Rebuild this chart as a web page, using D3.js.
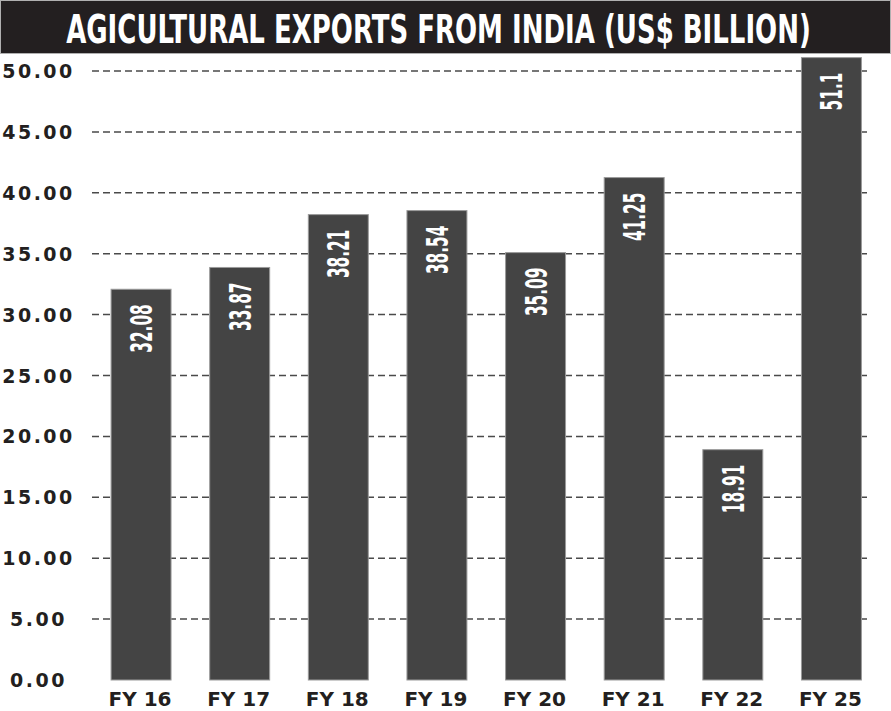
<!DOCTYPE html>
<html>
<head>
<meta charset="utf-8">
<script src="https://cdn.jsdelivr.net/npm/d3@7"></script>
<style>
  body { margin: 0; background: #fff; }
  svg { display: block; }
</style>
</head>
<body>
<script>
// chart data
const years = ["FY 16", "FY 17", "FY 18", "FY 19", "FY 20", "FY 21", "FY 22", "FY 25"];
const exports = [32.08, 33.87, 38.21, 38.54, 35.09, 41.25, 18.91, 51.1];
const valueLabels = ["32.08", "33.87", "38.21", "38.54", "35.09", "41.25", "18.91", "51.1"];
const yTicks = [0, 5, 10, 15, 20, 25, 30, 35, 40, 45, 50];
const title = "AGICULTURAL EXPORTS FROM INDIA (US$ BILLION)";

const width = 891;
const height = 711;

const svg = d3.select("body")
  .append("svg")
  .attr("width", width)
  .attr("height", height);

// title bar
svg.append("rect")
  .attr("x", 0.5)
  .attr("y", 0.5)
  .attr("width", width - 1)
  .attr("height", 53)
  .attr("fill", "#231f20")
  .attr("stroke", "#b0b0b0")
  .attr("stroke-width", 1);

// condensed title: size it to the wanted width, then stretch it up to the cap height
const titleText = svg.append("text")
  .attr("text-anchor", "middle")
  .attr("fill", "#ffffff")
  .style("font-family", "'DejaVu Sans Condensed', 'DejaVu Sans', sans-serif")
  .style("font-weight", "bold")
  .style("font-size", "30px")
  .text(title);
const natural = titleText.node().getComputedTextLength();
const fs = 30 * 745 / natural;
const sy = 28 / (0.729 * fs);
titleText
  .style("font-size", fs + "px")
  .attr("transform", `translate(438.5,43) scale(1,${sy})`);

// scales
const x = d3.scaleBand()
  .domain(years)
  .range([98.75, 873.75])
  .paddingInner(0.392)
  .paddingOuter(0.125);

const y = d3.scaleLinear()
  .domain([0, 50])
  .range([680, 71]);

// grid lines + y labels
const grid = svg.append("g");
grid.selectAll("line")
  .data(yTicks.slice(1))
  .join("line")
    .attr("x1", 92)
    .attr("x2", 867)
    .attr("y1", d => y(d))
    .attr("y2", d => y(d))
    .attr("stroke", "#4a4a4a")
    .attr("stroke-width", 1.5)
    .attr("stroke-dasharray", "7,4");

svg.append("g")
  .selectAll("text")
  .data(yTicks)
  .join("text")
    .attr("x", 38.5)
    .attr("y", d => y(d) + 7)
    .attr("text-anchor", "middle")
    .attr("fill", "#231f20")
    .style("font-family", "'DejaVu Sans', sans-serif")
    .style("font-weight", "bold")
    .style("font-size", "19px")
    .style("letter-spacing", "2.5px")
    .text(d => d3.format(".2f")(d));

// bars
svg.append("g")
  .selectAll("rect")
  .data(exports)
  .join("rect")
    .attr("x", (d, i) => x(years[i]))
    .attr("y", d => y(d))
    .attr("width", x.bandwidth())
    .attr("height", d => y(0) - y(d))
    .attr("fill", "#444444")
    .attr("stroke", "#9a9a9a")
    .attr("stroke-width", 1);

// value labels, rotated inside the bars
svg.append("g")
  .selectAll("text")
  .data(exports)
  .join("text")
    .attr("transform", (d, i) => `translate(${x(years[i]) + x.bandwidth() / 2 + 11},${y(d) + 15}) rotate(-90) scale(0.55,1)`)
    .attr("text-anchor", "end")
    .attr("fill", "#ffffff")
    .style("font-family", "'DejaVu Sans Condensed', 'DejaVu Sans', sans-serif")
    .style("font-weight", "bold")
    .style("font-size", "31px")
    .text((d, i) => valueLabels[i]);

// x labels
svg.append("g")
  .selectAll("text")
  .data(years)
  .join("text")
    .attr("x", d => x(d) + x.bandwidth() / 2 - 1)
    .attr("y", 706)
    .attr("text-anchor", "middle")
    .attr("fill", "#231f20")
    .style("font-family", "'DejaVu Sans', sans-serif")
    .style("font-weight", "bold")
    .style("font-size", "20px")
    .text(d => d);
</script>
</body>
</html>
